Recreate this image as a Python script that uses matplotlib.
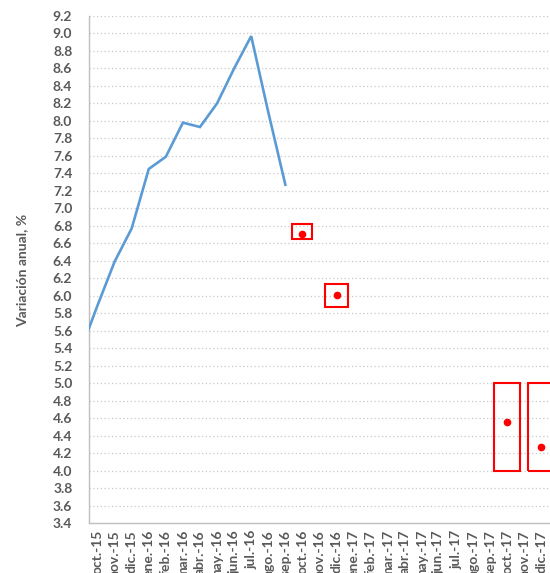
import matplotlib
matplotlib.use("Agg")
import matplotlib.pyplot as plt
import numpy as np

months = ["oct.-15", "nov.-15", "dic.-15", "ene.-16", "feb.-16", "mar.-16", "abr.-16",
          "may.-16", "jun.-16", "jul.-16", "ago.-16", "sep.-16", "oct.-16", "nov.-16",
          "dic.-16", "ene.-17", "feb.-17", "mar.-17", "abr.-17", "may.-17", "jun.-17",
          "jul.-17", "ago.-17", "sep.-17", "oct.-17", "nov.-17", "dic.-17"]
# value of the month before the first shown category (line enters from the axis edge)
previous_value = 5.37
observed = [5.89, 6.39, 6.77, 7.45, 7.59, 7.98, 7.93, 8.20, 8.60, 8.97, 8.10, 7.27]
forecast_months = ["oct.-16", "dic.-16", "oct.-17", "dic.-17"]
forecast_values = [6.71, 6.01, 4.55, 4.27]
range_low = [6.65, 5.87, 4.00, 4.00]
range_high = [6.82, 6.13, 5.00, 5.00]
yticks = [round(3.4 + 0.2 * i, 1) for i in range(30)]

grey = "#595959"
plt.rcParams['font.family'] = ['Lato', 'DejaVu Sans']

fig = plt.figure(figsize=(5.5, 5.73), dpi=100)
ax = fig.add_axes([89/550, 1-523/573, 1-89/550, (523-16)/573])

x = np.arange(len(months))
line_x = np.concatenate([[-1], x[:len(observed)]])
line_y = [previous_value] + observed
ax.plot(line_x, line_y, color="#5B9BD5", lw=1.9, solid_joinstyle="miter", zorder=3)

fx = [months.index(m) for m in forecast_months]
widths = [1.17, 1.35, 1.52, 1.6]
ax.bar(fx, np.array(range_high) - np.array(range_low), bottom=range_low, width=widths,
       fill=False, edgecolor="#FF0000", linewidth=1.5, zorder=4)
ax.plot(fx, forecast_values, "o", color="#FF0000", markersize=4.5, zorder=5, linestyle="none")

ax.set_xlim(-0.5, 26.5)
ax.set_ylim(3.4, 9.2)
ax.set_yticks(yticks)
ax.set_yticklabels([f"{v:.1f}" for v in yticks])
ax.set_xticks(x)
ax.set_xticklabels(months, rotation=90, va="top", ha="center")
ax.tick_params(axis="y", length=0, pad=12, labelsize=10, labelcolor=grey)
ax.tick_params(axis="x", length=0, pad=5, labelsize=10, labelcolor=grey)
for lab in ax.get_xticklabels() + ax.get_yticklabels():
    lab.set_fontweight("bold")

ax.grid(axis="y", linestyle=(0, (1, 2)), color="#c8c8c8", lw=0.9)
ax.set_axisbelow(True)
for s in ["top", "right"]:
    ax.spines[s].set_visible(False)
ax.spines["left"].set_color("#bfbfbf")
ax.spines["bottom"].set_color("#bfbfbf")
ax.spines["left"].set_linewidth(1.0)
ax.spines["bottom"].set_linewidth(1.0)

fig.text(22/550, 1-270/573, "Variación anual, %", rotation=90, ha="center", va="center",
         fontsize=10, fontweight="bold", color=grey)

fig.savefig("out.png", dpi=100)
